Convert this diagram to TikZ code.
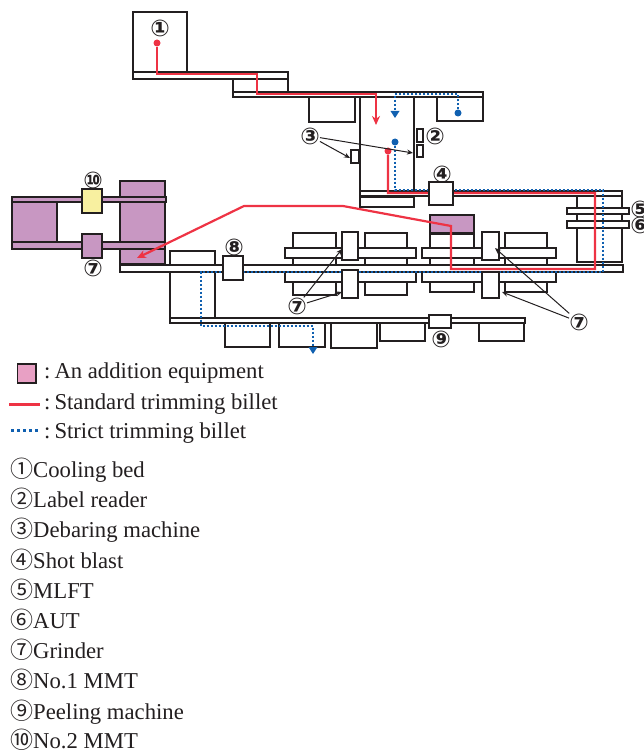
\documentclass[tikz,border=0pt]{standalone}
\usepackage{fontspec}
\setmainfont{Liberation Serif}
\newfontfamily\circfont{Noto Sans CJK JP}
\newfontfamily\labfont{DejaVu Sans}
\usetikzlibrary{arrows.meta}
\definecolor{linek}{HTML}{231F20}
\definecolor{redpath}{HTML}{EE3344}
\definecolor{bluepath}{HTML}{1060B0}
\definecolor{addfill}{HTML}{C897C2}
\definecolor{legfill}{HTML}{E8A0C4}
\definecolor{yelfill}{HTML}{F8F0A0}
\tikzset{
	box/.style={draw=linek,line width=1.6pt,fill=white},
	addbox/.style={box,fill=addfill},
	redline/.style={draw=redpath,line width=2.2pt},
	blueline/.style={draw=bluepath,line width=2.2pt,dash pattern=on 2pt off 2pt},
	reddot/.style={circle,fill=redpath,inner sep=0pt,minimum size=7pt},
	bluedot/.style={circle,fill=bluepath,inner sep=0pt,minimum size=7pt},
	numlab/.style={inner sep=0pt,font=\labfont\bfseries\fontsize{23}{23}\selectfont,text=linek},
	pointer/.style={draw=linek,line width=1pt,-{Stealth[length=6pt,width=5pt]}},
	legtext/.style={anchor=base west,inner sep=0pt,text=linek,font=\fontsize{22.7}{24}\selectfont},
}
\begin{document}
\begin{tikzpicture}[x=1pt,y=-1pt]
	\useasboundingbox (0,0) rectangle (643,751);
	\foreach \a/\b/\c/\d in {133/12/187/72,233/79/288/97,309/97/355/122,437/97/483/121,360/97/414/191,360/197/414/207,170/251/215/318,577/196/622/262,225/323/270/347,279/323/325/347,331/323/377/348,380/323/425/341,479/323/524/341}
		\draw[box] (\a,\b) rectangle (\c,\d);
	\foreach \a/\b/\c/\d in {133/72/288/79,233/92/483/97,360/191/622/196,567/208/629/214,567/221/629/228,170/318/525/323,351/150/359/163,417/129/423/142,417/145/423/157}
		\draw[box] (\a,\b) rectangle (\c,\d);
	\foreach \a/\b/\c/\d in {293/233/336/265,365/233/407/265,430/234/474/265,505/233/547/265,293/272/336/295,365/272/407/295,430/272/474/292,505/272/547/292,285/248/416/258,422/248/556/258,285/272/416/282,422/272/556/282}
		\draw[box] (\a,\b) rectangle (\c,\d);
	\draw[addbox] (430,215) rectangle (474,233);
	\draw[addbox] (120,181) rectangle (165,264);
	\draw[addbox] (12,202) rectangle (57,242);
	\draw[addbox] (12,197) rectangle (166,202);
	\draw[addbox] (12,242) rectangle (165,249);
	\draw[box] (120,265) rectangle (623,272);
	\node[reddot] (start1) at (157,43) {};
	\node[reddot] (start2) at (388,151) {};
	\node[bluedot] (start3) at (458,113) {};
	\node[bluedot] (start4) at (395,142) {};
	\coordinate (end1) at (376,125);
	\coordinate (end2) at (137,258);
	\coordinate (end3) at (395,118);
	\coordinate (end4) at (313,354);
	\draw[blueline] (start3) -- (458,94) -- (395,94) -- (395,110);
	\fill[bluepath] (end3) -- (390.5,111) -- (399.5,111) -- cycle;
	\draw[blueline] (start4) -- (395,190) -- (603,190) -- (603,272) -- (201,272) -- (201,326) -- (313,326) -- (313,347);
	\fill[bluepath] (end4) -- (308.5,347) -- (317.5,347) -- cycle;
	\draw[redline,-{Stealth[length=9pt,width=8pt]}] (start1) -- (157,74) -- (257,74) -- (257,94) -- (376,94) -- (end1);
	\draw[redline,-{Stealth[length=9pt,width=8pt]}] (start2) -- (388,193) -- (595,193) -- (595,269) -- (451,269) -- (451,226) -- (343,206) -- (244,206) -- (end2);
	\foreach \a/\b/\c/\d in {429/182/453/205,223/256/243/280,429/315/451/328,342/232/358/260,342/270/358/298,482/232/499/260,482/272/499/298}
		\draw[box] (\a,\b) rectangle (\c,\d);
	\draw[box,fill=yelfill] (82,189) rectangle (102,213);
	\draw[addbox] (82,234) rectangle (102,258);
	\node[numlab] (cool) at (160,28) {①};
	\node[numlab] (label) at (435,136) {②};
	\node[numlab] (deburr) at (310,136) {③};
	\node[numlab] (shot) at (442,174) {④};
	\node[numlab] (mlft) at (640,209) {⑤};
	\node[numlab] (aut) at (640,225) {⑥};
	\node[numlab] (grindA) at (93,268) {⑦};
	\node[numlab] (grindB) at (297,306) {⑦};
	\node[numlab] (grindC) at (579,322) {⑦};
	\node[numlab] (mmtA) at (234,247) {⑧};
	\node[numlab] (peel) at (441,339) {⑨};
	\node[numlab] (mmtB) at (93,180) {⑩};
	\coordinate (tipA) at (350,158);
	\coordinate (tipB) at (413,153);
	\coordinate (tipC) at (342,249);
	\coordinate (tipD) at (342,292);
	\coordinate (tipE) at (495,248);
	\coordinate (tipF) at (502,292);
	\draw[pointer] (deburr) -- (tipA);
	\draw[pointer] (deburr) -- (tipB);
	\draw[pointer] (grindB) -- (tipC);
	\draw[pointer] (grindB) -- (tipD);
	\draw[pointer] (grindC) -- (tipE);
	\draw[pointer] (grindC) -- (tipF);
	\draw[box,fill=legfill,line width=1.8pt] (17.5,364) rectangle (36,383);
	\coordinate (legA) at (9,404);
	\coordinate (legB) at (40,404);
	\coordinate (legC) at (11,430);
	\coordinate (legD) at (40,430);
	\draw[redline,line width=3pt] (legA) -- (legB);
	\draw[blueline,line width=3pt,dash pattern=on 3pt off 3pt] (legC) -- (legD);
	\node[legtext] (addtext) at (44,378) {:\hspace{4pt}An addition equipment};
	\node[legtext] (stdtext) at (44,409) {:\hspace{4pt}Standard trimming billet};
	\node[legtext] (strtext) at (44,438) {:\hspace{4pt}Strict trimming billet};
	\foreach \n/\t/\y in {①/Cooling bed/477,②/Label reader/507,③/Debaring machine/537,④/Shot blast/568,⑤/MLFT/598,⑥/AUT/628,⑦/Grinder/658,⑧/No.1 MMT/688,⑨/Peeling machine/719,⑩/No.2 MMT/748}
		\node[legtext] at (10,\y) {{\circfont\fontsize{23}{23}\selectfont\n}\t};
\end{tikzpicture}
\end{document}
